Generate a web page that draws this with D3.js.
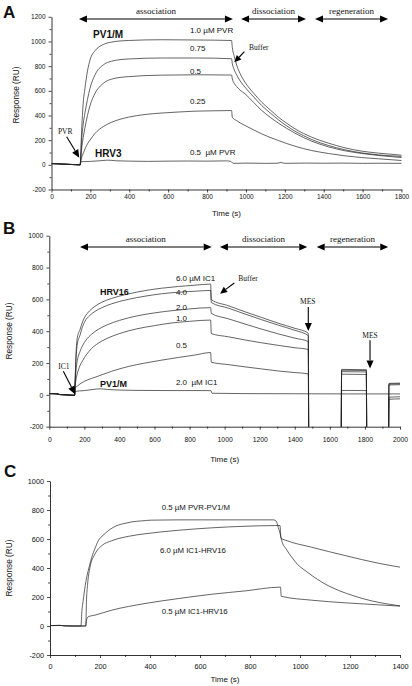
<!DOCTYPE html>
<html><head><meta charset="utf-8">
<script src="https://cdn.jsdelivr.net/npm/d3@7"></script>
<style>body{margin:0;background:#fff} svg{display:block} text{white-space:pre}</style>
</head><body><svg id="c" width="412" height="686"></svg>
<script>
// ---------------- DATA ----------------
// Panel A : PVR binding to PV1/M and HRV3  (time s, response RU)
const aTicksX = [0,200,400,600,800,1000,1200,1400,1600,1800];
const aTicksY = [-200,0,200,400,600,800,1000,1200];
const aPVR10 = [[0,10],[60,6],[100,3],[145,0],[147,0],[155,280],[163,500],[172,620],[185,760],[198,850],[224,925],[266,975],[309,995],[395,1008],[567,1014],[750,1012],[926,1008],[930,950],[940,880],[952,810],[970,740],[995,670],[1040,580],[1081,508],[1125,445],[1167,386],[1210,337],[1252,292],[1295,255],[1338,224],[1424,176],[1509,138],[1595,111],[1681,95],[1800,78]];
const aPVR075 = [[0,10],[60,6],[100,3],[145,0],[147,0],[155,200],[163,330],[172,420],[185,530],[198,620],[224,730],[266,810],[309,840],[395,858],[567,866],[750,866],[926,860],[930,820],[940,770],[952,730],[970,680],[995,630],[1040,550],[1081,481],[1125,420],[1167,365],[1210,315],[1252,273],[1295,237],[1338,205],[1424,157],[1509,122],[1595,97],[1681,81],[1800,68]];
const aPVR05 = [[0,10],[60,6],[100,3],[145,0],[147,0],[155,130],[163,220],[172,300],[185,400],[198,480],[224,580],[266,660],[309,695],[395,715],[567,727],[750,730],[926,728],[930,697],[940,660],[952,635],[970,605],[995,576],[1040,505],[1081,441],[1125,385],[1167,338],[1210,295],[1252,257],[1295,222],[1338,192],[1424,146],[1509,114],[1595,92],[1681,76],[1800,59]];
const aPVR025 = [[0,10],[60,6],[100,3],[145,0],[147,0],[152,40],[165,100],[185,170],[198,200],[224,255],[266,310],[309,345],[395,386],[481,408],[567,420],[650,428],[738,435],[830,438],[926,440],[930,386],[950,360],[995,319],[1040,283],[1081,251],[1167,197],[1252,151],[1338,116],[1424,92],[1509,73],[1595,59],[1681,49],[1800,35]];
const aHRV3 = [[0,10],[30,9],[60,6],[100,3],[145,0],[148,-2],[151,25],[200,28],[250,33],[290,38],[330,33],[400,30],[500,28],[600,30],[700,31],[800,30],[900,32],[922,28],[935,12],[1000,14],[1100,12],[1160,13],[1180,19],[1200,12],[1300,14],[1400,13],[1500,14],[1600,12],[1700,13],[1800,12]];

// Panel B : ICAM-1 binding to HRV16 and PV1/M
const bTicksX = [0,200,400,600,800,1000,1200,1400,1600,1800,2000];
const bTicksY = [-200,0,200,400,600,800,1000];
const bIC1_60 = [[0,8],[40,7],[60,2],[100,0],[144,-3],[147,80],[152,250],[160,360],[175,410],[190,460],[203,490],[230,528],[260,556],[300,582],[355,606],[450,634],[546,655],[640,670],[736,681],[830,689],[920,696],[924,598],[1021,560],[1116,522],[1211,486],[1306,450],[1401,418],[1477,388],[1480,-400],[1664,-400],[1667,160],[1808,158],[1811,-400],[1934,-400],[1937,72],[2000,74]];
const bIC1_40 = [[0,8],[40,7],[60,2],[100,0],[144,-3],[147,70],[152,215],[160,320],[175,375],[190,430],[203,462],[230,498],[260,524],[300,548],[355,572],[450,600],[546,620],[640,635],[736,645],[830,651],[920,656],[924,580],[1021,545],[1116,508],[1211,472],[1306,438],[1401,405],[1477,372],[1480,-400],[1664,-400],[1667,155],[1808,153],[1811,-400],[1934,-400],[1937,68],[2000,70]];
const bIC1_20 = [[0,8],[40,7],[60,2],[100,0],[144,-3],[147,60],[152,150],[160,215],[175,272],[190,310],[210,345],[240,380],[280,412],[330,440],[400,468],[500,496],[600,515],[700,529],[800,540],[920,548],[924,512],[1021,478],[1116,445],[1211,413],[1306,383],[1401,356],[1477,335],[1480,-400],[1664,-400],[1667,146],[1808,144],[1811,-400],[1934,-400],[1937,62],[2000,64]];
const bIC1_10 = [[0,8],[40,7],[60,2],[100,0],[144,-3],[147,50],[155,110],[170,170],[190,215],[210,250],[240,290],[280,325],[330,355],[400,385],[500,415],[600,435],[700,452],[800,462],[920,470],[924,385],[1021,365],[1116,345],[1211,327],[1306,311],[1401,296],[1477,285],[1480,-400],[1664,-400],[1667,130],[1808,128],[1811,-400],[1934,-400],[1937,-15],[2000,-12]];
const bIC1_05 = [[0,8],[40,7],[60,2],[100,0],[144,-3],[147,40],[165,60],[184,75],[220,95],[260,110],[355,148],[450,178],[546,200],[640,218],[736,235],[830,250],[920,266],[924,205],[1021,190],[1116,176],[1211,163],[1306,150],[1401,140],[1477,132],[1480,-400],[1664,-400],[1667,28],[1808,27],[1811,-400],[1934,-400],[1937,-28],[2000,-25]];
const bPV1M = [[0,8],[40,7],[60,2],[100,0],[144,-3],[147,22],[200,27],[250,34],[290,38],[330,34],[400,30],[500,28],[700,27],[900,27],[922,26],[928,10],[1100,8],[1400,7],[1700,6],[2000,6]];

// Panel C : comparison
const cTicksX = [0,200,400,600,800,1000,1200,1400];
const cTicksY = [-200,0,200,400,600,800,1000];
const cPVR05 = [[0,3],[40,4],[60,1],[100,0],[124,0],[127,90],[133,178],[140,270],[147,338],[157,410],[167,474],[180,535],[193,588],[212,625],[233,657],[253,680],[273,696],[300,708],[327,718],[367,725],[407,730],[513,732],[647,732],[780,732],[895,732],[905,722],[913,680],[920,640],[927,588],[945,530],[967,474],[990,425],[1020,383],[1050,345],[1087,303],[1120,272],[1153,246],[1187,224],[1220,205],[1253,188],[1287,173],[1320,161],[1353,151],[1400,139]];
const cIC1_60 = [[0,3],[40,4],[60,1],[100,0],[143,0],[146,180],[150,280],[160,406],[180,497],[207,554],[247,588],[313,618],[380,636],[513,660],[647,677],[780,688],[920,693],[924,605],[940,593],[1047,543],[1180,486],[1313,433],[1400,406]];
const cIC1_05 = [[0,3],[40,4],[60,1],[100,0],[143,0],[146,40],[153,64],[180,75],[247,109],[380,155],[513,189],[647,219],[780,242],[922,268],[925,205],[1047,178],[1180,160],[1313,146],[1400,137]];

// ---------------- DRAWING ----------------
const SANS = "'Liberation Sans', Arial, Helvetica, sans-serif";
const SERIF = "'Liberation Serif', 'Times New Roman', Times, serif";
const svg = d3.select('#c');
svg.append('rect').attr('width',412).attr('height',686).attr('fill','#fff');

function txt(g, x, y, s, o={}) {
  return g.append('text').attr('x',x).attr('y',y).text(s)
    .attr('font-family', o.family||SANS).attr('font-size', o.size||8)
    .attr('font-weight', o.weight||'normal').attr('text-anchor', o.anchor||'start')
    .attr('fill','#111');
}
function head(g, x1,y1,x2,y2,L,W){
  const dx=x2-x1, dy=y2-y1, len=Math.hypot(dx,dy), ux=dx/len, uy=dy/len;
  const bx=x2-ux*L, by=y2-uy*L, nx=-uy, ny=ux;
  g.append('path').attr('d',`M${x2},${y2}L${bx+nx*W},${by+ny*W}L${bx-nx*W},${by-ny*W}Z`).attr('fill','#000');
  return [bx,by];
}
function arrow(g, x1,y1,x2,y2,dbl,L=8,W=3.5){
  const e=head(g,x1,y1,x2,y2,L,W);
  let s=[x1,y1];
  if(dbl) s=head(g,x2,y2,x1,y1,L,W);
  g.append('line').attr('x1',s[0]).attr('y1',s[1]).attr('x2',e[0]).attr('y2',e[1]).attr('stroke','#000').attr('stroke-width',1.1);
}

function panel(o){
  const g = svg.append('g');
  const x = d3.scaleLinear().domain(o.xd).range(o.xr);
  const y = d3.scaleLinear().domain(o.yd).range(o.yr);
  const minorX = d3.range(o.xd[0], o.xd[1]+1, 100).filter(v=>!o.tx.includes(v));
  const minorY = d3.range(o.yd[0], o.yd[1]+1, 100).filter(v=>!o.ty.includes(v));
  g.append('g').attr('transform',`translate(0,${o.yr[0]})`)
    .call(d3.axisBottom(x).tickValues(o.tx).tickSize(3).tickSizeOuter(0).tickPadding(o.xpad).tickFormat(d=>String(d)));
  g.append('g').attr('transform',`translate(0,${o.yr[0]})`)
    .call(d3.axisBottom(x).tickValues(minorX).tickSize(2).tickSizeOuter(0).tickFormat(''))
    .select('.domain').remove();
  g.append('g').attr('transform',`translate(${o.xr[0]},0)`)
    .call(d3.axisLeft(y).tickValues(o.ty).tickSize(3).tickSizeOuter(0).tickPadding(3).tickFormat(d=>String(d)));
  g.append('g').attr('transform',`translate(${o.xr[0]},0)`)
    .call(d3.axisLeft(y).tickValues(minorY).tickSize(2).tickSizeOuter(0).tickFormat(''))
    .select('.domain').remove();
  g.selectAll('.domain').attr('stroke','#000').attr('stroke-width',0.8);
  g.selectAll('.tick line').attr('stroke','#000').attr('stroke-width',0.7);
  g.selectAll('.tick text').attr('font-family',SANS).attr('font-size',o.tfs).attr('fill','#111');
  const id='clip'+o.name;
  g.append('clipPath').attr('id',id).append('rect')
    .attr('x',o.xr[0]).attr('y',o.yr[1]-40).attr('width',o.xr[1]-o.xr[0]+2).attr('height',o.yr[0]-o.yr[1]+40);
  const line = d3.line().x(d=>x(d[0])).y(d=>y(d[1])).curve(d3.curveMonotoneX);
  const lg = g.append('g').attr('clip-path',`url(#${id})`);
  o.series.forEach(s=>{
    lg.append('path').attr('d',line(s)).attr('fill','none').attr('stroke','#222').attr('stroke-width',0.7);
  });
  txt(g, o.letter[1], o.letter[2], o.letter[0], {size:17, weight:'bold'});
  txt(g, (o.xr[0]+o.xr[1])/2, o.tBase, 'Time (s)', {size:8, anchor:'middle'});
  txt(g, 0, 0, 'Response (RU)', {size:8.3, anchor:'middle'})
    .attr('transform',`translate(${o.yl[0]},${o.yl[1]}) rotate(-90)`);
  return {g,x,y};
}

// ---- Panel A ----
{
  const {g,x,y} = panel({name:'A', xd:[0,1800], yd:[-200,1200], xr:[51.5,401.5], yr:[189.5,16.8],
    tx:aTicksX, ty:aTicksY, xpad:2.2, tfs:6.5, tBase:216, letter:['A',3,18], yl:[19,95],
    series:[aPVR10,aPVR075,aPVR05,aPVR025,aHRV3]});
  const ph = [['association',141,933],['dissociation',975,1309],['regeneration',1355,1731]];
  ph.forEach(p=>{ arrow(g,x(p[1]),y(1182),x(p[2]),y(1182),true);
    txt(g,x((p[1]+p[2])/2),y(1222),p[0],{family:SERIF,size:9,anchor:'middle'}); });
  txt(g,x(214),y(1028),'PV1/M',{size:10,weight:'bold'});
  txt(g,x(224),y(63),'HRV3',{size:10,weight:'bold'});
  txt(g,x(712),y(1068),'1.0 \u00B5M PVR',{size:8});
  txt(g,x(712),y(922),'0.75',{size:8});
  txt(g,x(712),y(736),'0.5',{size:8});
  txt(g,x(712),y(493),'0.25',{size:8});
  txt(g,x(712),y(80),'0.5  \u00B5M PVR',{size:8});
  txt(g,x(33),y(250),'PVR',{family:SERIF,size:7.5});
  arrow(g,x(78),y(228),x(143),y(58),false,8,3.5);
  txt(g,x(1016),y(930),'Buffer',{family:SERIF,size:7.5});
  arrow(g,x(992),y(917),x(940),y(831),false,7,3.2);
}
// ---- Panel B ----
{
  const {g,x,y} = panel({name:'B', xd:[0,2000], yd:[-200,1000], xr:[49.3,400], yr:[426.7,235.7],
    tx:bTicksX, ty:bTicksY, xpad:7, tfs:6.8, tBase:462, letter:['B',3,234], yl:[12,331],
    series:[bIC1_60,bIC1_40,bIC1_20,bIC1_10,bIC1_05,bPV1M]});
  const ph = [['association',175,926],['dissociation',973,1471],['regeneration',1525,1933]];
  ph.forEach(p=>{ arrow(g,x(p[1]),y(929),x(p[2]),y(929),true);
    txt(g,x((p[1]+p[2])/2),y(961),p[0],{family:SERIF,size:9,anchor:'middle'}); });
  txt(g,x(289),y(625),'HRV16',{size:9,weight:'bold'});
  txt(g,x(289),y(50),'PV1/M',{size:9,weight:'bold'});
  txt(g,x(722),y(716),'6.0 \u00B5M IC1',{size:8});
  txt(g,x(722),y(628),'4.0',{size:8});
  txt(g,x(722),y(533),'2.0',{size:8});
  txt(g,x(722),y(464),'1.0',{size:8});
  txt(g,x(722),y(295),'0.5',{size:8});
  txt(g,x(722),y(62),'2.0  \u00B5M IC1',{size:8});
  txt(g,x(51),y(163),'IC1',{family:SERIF,size:7.5});
  arrow(g,x(80),y(148),x(147),y(4),false,8,3.5);
  txt(g,x(1078),y(716),'Buffer',{family:SERIF,size:7.5});
  arrow(g,x(1055),y(703),x(974),y(636),false,7,3.2);
  txt(g,x(1474),y(574),'MES',{family:SERIF,size:7.5,anchor:'middle'});
  arrow(g,x(1477),y(552),x(1477),y(401),false,8,3.5);
  txt(g,x(1829),y(357),'MES',{family:SERIF,size:7.5,anchor:'middle'});
  arrow(g,x(1829),y(343),x(1829),y(165),false,8,3.5);
}
// ---- Panel C ----
{
  const {g,x,y} = panel({name:'C', xd:[0,1400], yd:[-200,1000], xr:[50,400], yr:[655,481],
    tx:cTicksX, ty:cTicksY, xpad:6, tfs:7.3, tBase:681.5, letter:['C',4,477], yl:[12,568],
    series:[cPVR05,cIC1_60,cIC1_05]});
  txt(g,x(447),y(800),'0.5 \u00B5M PVR-PV1/M',{size:7.8});
  txt(g,x(440),y(503),'6.0 \u00B5M IC1-HRV16',{size:7.8});
  txt(g,x(447),y(86),'0.5 \u00B5M IC1-HRV16',{size:7.8});
}
</script></body></html>
